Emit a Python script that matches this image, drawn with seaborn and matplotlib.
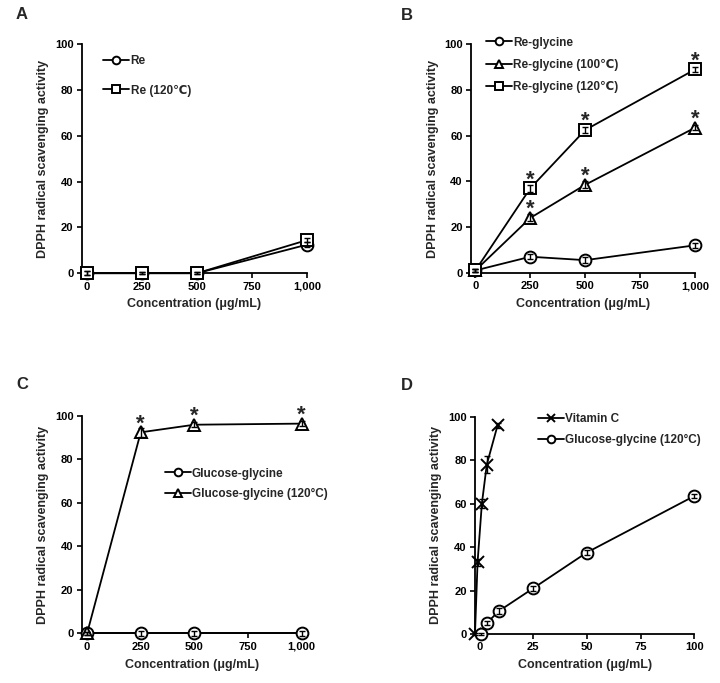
import numpy as np
import pandas as pd
from matplotlib import pyplot as plt
import seaborn as sns

# panel A
conc = [0, 250, 500, 1000]
re_raw = [0, 0, 0, 12.5]
re_raw_err = [0.8, 0.5, 0.5, 1.0]
re_120 = [0, 0, 0, 14.5]
re_120_err = [0.8, 0.5, 0.5, 1.0]

# panel B
re_gly = [1, 7, 5.5, 12]
re_gly_err = [0.5, 1.2, 1.2, 1.2]
re_gly_100 = [1, 24, 38.5, 63.5]
re_gly_100_err = [0.5, 1.5, 1.5, 1.2]
re_gly_120 = [1, 37, 62.5, 89]
re_gly_120_err = [0.5, 1.5, 1.5, 1.2]

# panel C
glu_gly = [0, 0, 0, 0]
glu_gly_err = [0.8, 1.0, 1.0, 1.0]
glu_gly_120 = [0, 92.5, 96, 96.5]
glu_gly_120_err = [0.8, 2.0, 1.2, 1.2]

# panel D
vitc_conc = [-2, -0.8, 1.2, 3.5, 8.5]
vitc = [0, 33, 60, 78, 96]
vitc_err = [0.5, 1.5, 2.0, 4.0, 1.0]
gg_conc = [1, 3.5, 9, 25, 50, 100]
gg = [0, 5, 10.5, 21, 37.5, 63.5]
gg_err = [0.5, 1.0, 1.5, 1.0, 1.0, 1.0]

sns.set_style('ticks')
plt.rcParams['font.family'] = ['Liberation Sans', 'DejaVu Sans']
plt.rcParams['font.weight'] = 'bold'

fig = plt.figure(figsize=(7.2, 6.83), dpi=100)
axA = fig.add_axes([0.1135, 0.600, 0.3133, 0.3352])
axB = fig.add_axes([0.6542, 0.6007, 0.3111, 0.3344])
axC = fig.add_axes([0.1135, 0.0727, 0.3055, 0.3182])
axD = fig.add_axes([0.6597, 0.0717, 0.3046, 0.3182])


def series(ax, x, y, err, marker, label, ms=8.5):
    sns.lineplot(x=x, y=y, ax=ax, color='black', lw=1.3, marker=marker,
                 markersize=ms, markerfacecolor='white', markeredgecolor='black',
                 markeredgewidth=1.4, label=label, clip_on=False, zorder=3)
    ax.errorbar(x, y, yerr=err, fmt='none', ecolor='black', elinewidth=1,
                capsize=2, capthick=1, zorder=4, clip_on=False)


def stars(ax, x, y, idx, off=6):
    for i in idx:
        ax.annotate('*', (x[i], y[i]), xytext=(0, off), textcoords='offset points',
                    ha='center', va='center', fontsize=16, fontweight='bold')


def style(ax, xlim, xticks, xticklabels, letter, lx, ly):
    ax.set_xlim(*xlim)
    ax.set_ylim(0, 100)
    ax.set_xticks(xticks)
    ax.set_xticklabels(xticklabels)
    ax.set_yticks([0, 20, 40, 60, 80, 100])
    sns.despine(ax=ax)
    for s in ['left', 'bottom']:
        ax.spines[s].set_linewidth(1.3)
        ax.spines[s].set_color('black')
    ax.tick_params(labelsize=8, width=1.2, length=3.5, colors='black', pad=2.5)
    ax.set_xlabel('Concentration (μg/mL)', fontsize=9, fontweight='bold', labelpad=5)
    ax.set_ylabel('DPPH radical scavenging activity', fontsize=9, fontweight='bold',
                  labelpad=4)
    ax.text(lx, ly, letter, transform=ax.transAxes, fontsize=12,
            fontweight='bold', ha='center', va='center')


lab = ['0', '250', '500', '750', '1,000']
big = [0, 250, 500, 750, 1000]
leg = dict(loc='upper left', frameon=False, handlelength=2.2, handletextpad=0.1,
           fontsize=8.5, borderpad=0, markerscale=0.65)

series(axA, conc, re_raw, re_raw_err, 'o', 'Re')
series(axA, conc, re_120, re_120_err, 's', 'Re (120℃)')
style(axA, (-23, 1000), big, lab, 'A', -0.265, 1.128)
axA.legend(bbox_to_anchor=(0.07, 0.98), labelspacing=1.5, **leg)

series(axB, conc, re_gly, re_gly_err, 'o', 'Re-glycine')
series(axB, conc, re_gly_100, re_gly_100_err, '^', 'Re-glycine (100℃)')
series(axB, conc, re_gly_120, re_gly_120_err, 's', 'Re-glycine (120℃)')
stars(axB, conc, re_gly_100, [1, 2, 3])
stars(axB, conc, re_gly_120, [1, 2, 3])
style(axB, (-20, 1000), big, lab, 'B', -0.286, 1.128)
axB.legend(bbox_to_anchor=(0.04, 1.06), labelspacing=0.85, **leg)

series(axC, conc, glu_gly, glu_gly_err, 'o', 'Glucose-glycine')
series(axC, conc, glu_gly_120, glu_gly_120_err, '^', 'Glucose-glycine (120°C)')
stars(axC, conc, glu_gly_120, [1, 2, 3])
style(axC, (-25, 1000), big, lab, 'C', -0.27, 1.143)
axC.legend(bbox_to_anchor=(0.35, 0.79), labelspacing=0.7, **leg)

series(axD, vitc_conc, vitc, vitc_err, 'x', 'Vitamin C', ms=9)
series(axD, gg_conc, gg, gg_err, 'o', 'Glucose-glycine (120°C)')
style(axD, (-2, 100), [0, 25, 50, 75, 100], ['0', '25', '50', '75', '100'], 'D',
      -0.31, 1.143)
axD.legend(bbox_to_anchor=(0.26, 1.045), labelspacing=0.75, **leg)

fig.savefig('out.png', dpi=100)
